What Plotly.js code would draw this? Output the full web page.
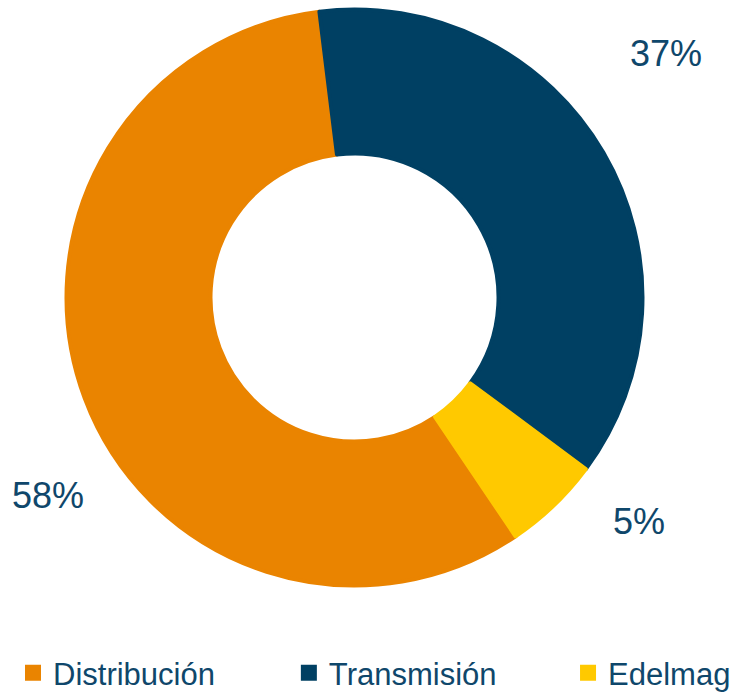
<!DOCTYPE html>
<html>
<head>
<meta charset="utf-8">
<script src="https://cdn.plot.ly/plotly-3.0.1.min.js"></script>
<style>html,body{margin:0;padding:0;background:#fff;}#chart{width:741px;height:700px;}</style>
</head>
<body>
<div id="chart"></div>
<script>
const categories = ["Distribución", "Transmisión", "Edelmag"];
const values = [57.5, 37.1, 5.4];
const pctLabels = ["58%", "37%", "5%"];
const colors = ["#EA8400", "#004063", "#FFC900"];
const labelPos = [[48, 496], [666, 53], [639, 521]];

const W = 741, H = 700;
const textColor = "#0F476B";
const NB = "\u00A0";
// trailing padding so the horizontal legend entries are spread like the reference
const legendPad = [NB.repeat(8), NB.repeat(7) + "\u2009", ""];
const legendLabels = categories.map((c, i) => c + legendPad[i]);

const trace = {
  type: "pie",
  labels: legendLabels,
  values: values,
  hole: 0.5,
  sort: false,
  direction: "clockwise",
  rotation: 146,
  textinfo: "none",
  hoverinfo: "label+percent",
  marker: { colors: colors, line: { width: 4, color: colors } },
  domain: { x: [66.5 / W, 642.5 / W], y: [1 - 585.5 / H, 1 - 9.5 / H] }
};

const annotations = pctLabels.map((t, i) => ({
  text: t,
  x: labelPos[i][0] / W,
  y: 1 - labelPos[i][1] / H,
  xref: "paper", yref: "paper",
  xanchor: "center", yanchor: "middle",
  showarrow: false,
  font: { family: "Liberation Sans, Arial, sans-serif", size: 36, color: textColor }
}));

const layout = {
  width: W, height: H,
  margin: { l: 0, r: 0, t: 0, b: 0, autoexpand: false },
  paper_bgcolor: "#fff",
  showlegend: true,
  legend: {
    orientation: "h",
    xref: "container", yref: "container",
    x: 13 / W, y: 1 - 673 / H,
    xanchor: "left", yanchor: "middle",
    borderwidth: 0,
    font: { family: "Liberation Sans, Arial, sans-serif", size: 31, color: textColor },
    traceorder: "normal"
  },
  annotations: annotations
};

Plotly.newPlot("chart", [trace], layout, { displayModeBar: false, staticPlot: true });
</script>
</body>
</html>
